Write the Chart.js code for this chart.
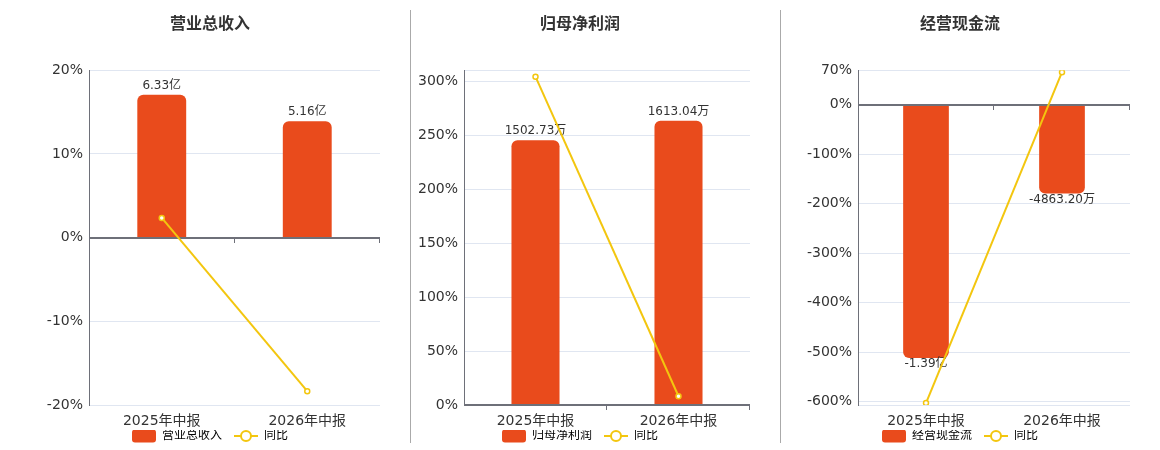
<!DOCTYPE html>
<html lang="zh-CN">
<head>
<meta charset="UTF-8">
<title>财务指标</title>
<script src="https://cdn.jsdelivr.net/npm/chart.js"></script>
<style>
  body { margin: 0; background: #fff; font-family: "DejaVu Sans", "Noto Sans CJK SC", sans-serif; }
  .wrap { position: relative; width: 1160px; height: 450px; }
  .panel { position: absolute; top: 0; width: 380px; height: 450px; }
  .sep { position: absolute; top: 10px; width: 1px; height: 433px; background: #aaa; }
</style>
</head>
<body>
<div class="wrap">
  <div class="panel" style="left:20px"><canvas id="c1"></canvas></div>
  <div class="panel" style="left:390px"><canvas id="c2"></canvas></div>
  <div class="panel" style="left:770px"><canvas id="c3"></canvas></div>
  <div class="sep" style="left:410px"></div>
  <div class="sep" style="left:780px"></div>
</div>

<script>
  const categories = ['2025年中报', '2026年中报'];

  // 营业总收入 (亿)
  const revenueValues = [6.33, 5.16];
  const revenueLabels = ['6.33亿', '5.16亿'];
  const revenueYoy = [2.35, -18.35];
  const revenueTicks = [-20, -10, 0, 10, 20];

  // 归母净利润 (万)
  const profitValues = [1502.73, 1613.04];
  const profitLabels = ['1502.73万', '1613.04万'];
  const profitYoy = [304, 8.1];
  const profitTicks = [0, 50, 100, 150, 200, 250, 300];

  // 经营现金流 (万)
  const cashValues = [-13900, -4863.2];
  const cashLabels = ['-1.39亿', '-4863.20万'];
  const cashYoy = [-603, 66];
  const cashTicks = [-600, -500, -400, -300, -200, -100, 0, 70];

  const FONT = '"DejaVu Sans", "Noto Sans CJK SC", sans-serif';
  const BAR_COLOR = '#E94B1C';
  const LINE_COLOR = '#F3C60F';

  function legendIcon(type) {
    const c = document.createElement('canvas');
    c.width = 24;
    c.height = 14;
    const g = c.getContext('2d');
    if (type === 'bar') {
      g.fillStyle = BAR_COLOR;
      g.beginPath();
      g.roundRect(0, 0.5, 24, 13, 3);
      g.fill();
    } else {
      g.strokeStyle = LINE_COLOR;
      g.lineWidth = 2;
      g.beginPath();
      g.moveTo(0, 7);
      g.lineTo(24, 7);
      g.stroke();
      g.beginPath();
      g.arc(12, 7, 5, 0, Math.PI * 2);
      g.fillStyle = '#fff';
      g.fill();
      g.stroke();
    }
    return c;
  }
  const barIcon = legendIcon('bar');
  const lineIcon = legendIcon('line');

  // zero axis line, category ticks and value labels, drawn right after the bars
  const barDecor = {
    id: 'barDecor',
    afterDatasetDraw(chart, args, opts) {
      if (args.index !== 0) return;
      const { ctx, chartArea, scales } = chart;
      const x = scales.x;
      const y0 = Math.round(scales.y.getPixelForValue(0));
      ctx.save();
      ctx.strokeStyle = '#6E7079';
      ctx.lineWidth = 2;
      ctx.beginPath();
      ctx.moveTo(chartArea.left, y0);
      ctx.lineTo(chartArea.right, y0);
      ctx.stroke();
      ctx.lineWidth = 1;
      const half = (x.getPixelForValue(1) - x.getPixelForValue(0)) / 2;
      for (let i = 0; i < categories.length; i++) {
        const tx = Math.round(x.getPixelForValue(i) + half) - 0.5;
        ctx.beginPath();
        ctx.moveTo(tx, y0);
        ctx.lineTo(tx, y0 + 5);
        ctx.stroke();
      }

      ctx.font = '12px ' + FONT;
      ctx.fillStyle = '#333';
      ctx.textAlign = 'center';
      const values = chart.data.datasets[0].data;
      args.meta.data.forEach((bar, i) => {
        if (values[i] >= 0) {
          ctx.textBaseline = 'bottom';
          ctx.fillText(opts.labels[i], bar.x, bar.y - 3);
        } else {
          ctx.textBaseline = 'top';
          ctx.fillText(opts.labels[i], bar.x, bar.y);
        }
      });
      ctx.restore();
    }
  };

  function makeChart(id, o) {
    new Chart(document.getElementById(id), {
      data: {
        labels: categories,
        datasets: [
          {
            type: 'bar',
            label: o.name,
            data: o.bars,
            yAxisID: 'yBar',
            order: 2,
            backgroundColor: BAR_COLOR,
            borderRadius: 6,
            borderSkipped: 'start',
            barPercentage: 0.42,
            categoryPercentage: 0.8
          },
          {
            type: 'line',
            label: '同比',
            data: o.yoy,
            yAxisID: 'y',
            order: 1,
            borderColor: LINE_COLOR,
            borderWidth: 2,
            pointRadius: 2.5,
            pointBorderWidth: 1.5,
            pointBackgroundColor: '#fff',
            pointBorderColor: LINE_COLOR,
            tension: 0
          }
        ]
      },
      options: {
        responsive: true,
        maintainAspectRatio: false,
        animation: false,
        layout: { padding: { left: 20, right: 20, bottom: -2 } },
        plugins: {
          title: {
            display: true,
            text: o.title,
            color: '#333',
            font: { family: FONT, size: 16, weight: 'bold' },
            padding: { top: 15, bottom: 36 }
          },
          legend: {
            position: 'bottom',
            labels: {
              usePointStyle: true,
              pointStyleWidth: 24,
              boxHeight: 12,
              padding: 0,
              color: '#555',
              font: { family: FONT, size: 12 },
              generateLabels: () => [
                // two en spaces keep the gap before the next item
                { text: o.name + '\u2002\u2002', pointStyle: barIcon, fillStyle: BAR_COLOR, strokeStyle: BAR_COLOR, lineWidth: 0, hidden: false, datasetIndex: 0 },
                { text: '同比', pointStyle: lineIcon, fillStyle: '#fff', strokeStyle: LINE_COLOR, lineWidth: 0, hidden: false, datasetIndex: 1 }
              ]
            }
          },
          tooltip: { enabled: false },
          barDecor: { labels: o.labels }
        },
        scales: {
          x: {
            grid: { display: false },
            border: { display: false },
            ticks: { color: '#333', font: { family: FONT, size: 14 }, padding: 0 },
            afterFit: s => { s.height = 25; }
          },
          y: {
            min: o.min,
            max: o.max,
            afterBuildTicks: s => { s.ticks = o.grid.map(v => ({ value: v })); },
            afterFit: s => { s.width = o.axisWidth; },
            grid: {
              color: c => c.tick && c.tick.value === 0 ? 'rgba(0,0,0,0)' : '#E0E6F1',
              drawTicks: false
            },
            border: { color: '#6E7079' },
            ticks: {
              padding: 6,
              color: '#333',
              font: { family: FONT, size: 14 },
              callback: v => o.ticks.includes(v) ? v + '%' : ''
            }
          },
          yBar: { display: false, min: o.barMin, max: o.barMax }
        }
      },
      plugins: [barDecor]
    });
  }

  makeChart('c1', {
    title: '营业总收入', name: '营业总收入',
    bars: revenueValues, labels: revenueLabels, yoy: revenueYoy,
    ticks: revenueTicks, grid: revenueTicks,
    min: -20, max: 20, barMin: -7.42, barMax: 7.42, axisWidth: 49
  });
  makeChart('c2', {
    title: '归母净利润', name: '归母净利润',
    bars: profitValues, labels: profitLabels, yoy: profitYoy,
    ticks: profitTicks, grid: profitTicks.concat([310]),
    min: 0, max: 310, barMin: 0, barMax: 1900, axisWidth: 54
  });
  makeChart('c3', {
    title: '经营现金流', name: '经营现金流',
    bars: cashValues, labels: cashLabels, yoy: cashYoy,
    ticks: cashTicks, grid: [-607].concat(cashTicks),
    min: -607, max: 70, barMin: -16479, barMax: 1900, axisWidth: 68
  });
</script>
</body>
</html>
